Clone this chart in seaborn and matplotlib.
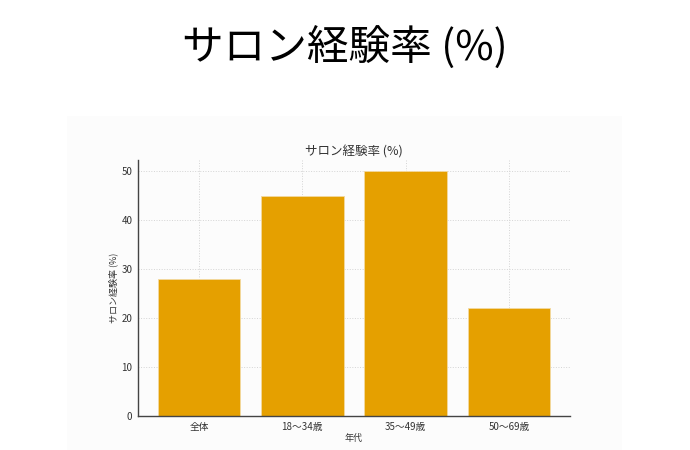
import matplotlib
matplotlib.use("Agg")
import matplotlib.pyplot as plt
import seaborn as sns
import pandas as pd
from matplotlib.patches import Rectangle

# データ
age_groups = ["全体", "18〜34歳", "35〜49歳", "50〜69歳"]
salon_rate = [28, 45, 50, 22]
main_title = "サロン経験率 (%)"
x_label = "年代"
y_label = "サロン経験率 (%)"

df = pd.DataFrame({"年代": age_groups, "率": salon_rate})

sns.set_style("whitegrid")
plt.rcParams["font.family"] = ["Noto Sans CJK JP", "DejaVu Sans"]

fig = plt.figure(figsize=(6.9, 4.5), dpi=100)
fig.patch.set_facecolor("white")

# 大きいタイトル
fig.text(0.5, 0.895, main_title, ha="center", va="center", fontsize=30, color="black")

# 埋め込み画像風の背景パネル（軸より後ろに描く）
panel = Rectangle((67 / 690, 0), (622 - 67) / 690, (450 - 116) / 450,
                  transform=fig.transFigure, facecolor="#fcfcfc", edgecolor="none", zorder=-1)
fig.patches.append(panel)

ax = fig.add_axes([138 / 690, 34 / 450, (570 - 138) / 690, (416 - 160) / 450])
ax.set_zorder(1)
ax.set_facecolor("#fcfcfc")

sns.barplot(data=df, x="年代", y="率", color="#E5A000", width=0.8,
            edgecolor="#f3d9a0", linewidth=0.6, saturation=1, ax=ax, zorder=2)

ax.set_xlim(-0.59, 3.59)
ax.set_ylim(0, 52.3)
ax.set_yticks([0, 10, 20, 30, 40, 50])
ax.grid(True, linestyle=":", color="#d4d4d4", linewidth=0.7)
ax.set_axisbelow(True)
for s in ["top", "right"]:
    ax.spines[s].set_visible(False)
for s in ["left", "bottom"]:
    ax.spines[s].set_color("#444444")
    ax.spines[s].set_linewidth(1.0)
ax.tick_params(axis="both", labelsize=7, colors="#333333", length=2, width=0.6, pad=2)
ax.set_title(main_title, fontsize=9, color="#333333", pad=3)
ax.set_xlabel(x_label, fontsize=6.5, color="#333333", labelpad=2)
ax.set_ylabel(y_label, fontsize=6.5, color="#333333", labelpad=2)

fig.savefig("out.png", dpi=100)
